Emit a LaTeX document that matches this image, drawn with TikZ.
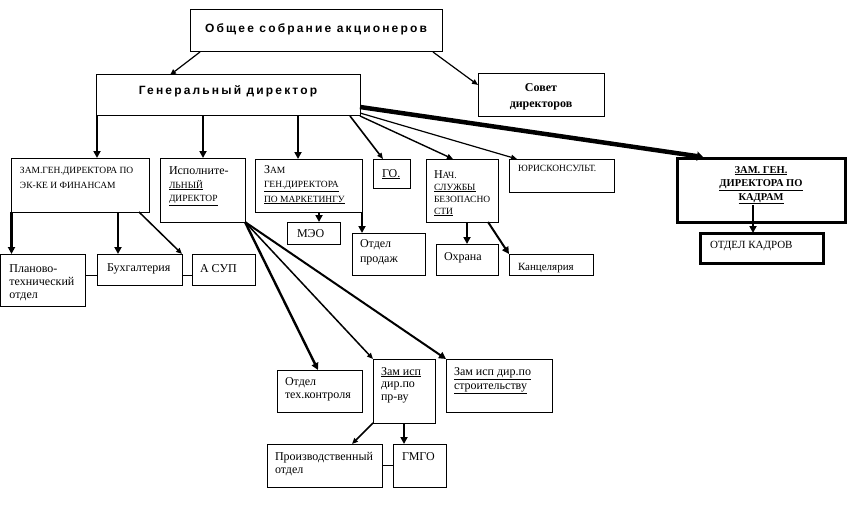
\documentclass[tikz,border=0pt]{standalone}
\usepackage{fontspec}
\setmainfont{Liberation Serif}
\newfontfamily\hdfont[LetterSpace=18]{Liberation Sans}
\usetikzlibrary{arrows.meta}
\newcommand\sm{\fontsize{9.5}{14}\selectfont}
\newcommand\hd{\hdfont\bfseries\fontsize{12}{14}\selectfont}
\tikzset{
  ob/.style={draw, line width=1pt, rectangle, inner sep=0pt, outer sep=0pt,
    font=\fontsize{12}{14}\selectfont},
  obthick/.style={line width=3pt},
  conn/.style={line width=#1, -{Triangle[length=7pt,width=7pt]}},
  conn/.default=2.2pt,
  thinconn/.style={line width=#1, -{Triangle[length=6pt,width=5pt]}},
  thinconn/.default=1.2pt,
  plain/.style={line width=0.8pt}
}
% name, x1, y1, x2, y2, padx, baseline-from-top, node options, text
\newcommand\obox[9]{%
  \node[ob,#8] (#1) at ({(#2+#4)/2},{-(#3+#5)/2})
  {\parbox[c][\dimexpr #5pt-#3pt\relax][t]{\dimexpr #4pt-#2pt\relax}{%
    \leftskip=#6pt\rightskip=0pt plus 1fil\parindent=0pt\lineskiplimit=-20pt
    \hyphenpenalty=10000\rule{0pt}{#7pt}#9\par}};}
\begin{document}
\begin{tikzpicture}[x=1pt,y=1pt]
\useasboundingbox (0,0) rectangle (859,-508);
% boxes
\obox{obsh}{190}{10}{442}{52}{0}{23}{}{\centering\hd Общее собрание акционеров}
\obox{gen}{96}{75}{360}{116}{0}{20}{}{\centering\hd Генеральный директор}
\obox{sovet}{478}{74}{604}{117}{0}{18}{font=\fontsize{12}{16}\selectfont}{\centering\bfseries Совет\\директоров}
\obox{zamek}{11}{158}{149}{212}{9}{15}{font=\fontsize{9.5}{15}\selectfont}{ЗАМ.ГЕН.ДИРЕКТОРА ПО\\ЭК-КЕ И ФИНАНСАМ}
\obox{isp}{160}{158}{245}{222}{9}{16}{}{Исполните-\\{\sm\underline{ЛЬНЫЙ}}\\{\sm\underline{ДИРЕКТОР}}}
\obox{mark}{255}{159}{362}{212}{9}{14}{font=\fontsize{12}{14.5}\selectfont}{З{\sm АМ}\\{\sm\underline{ГЕН.ДИРЕКТОРА}}\\{\sm\underline{ПО МАРКЕТИНГУ}}}
\obox{go}{373}{159}{410}{188}{9}{18}{}{\underline{ГО.}}
\obox{nach}{426}{159}{498}{222}{8}{19}{font=\fontsize{12}{12}\selectfont}{Н{\sm АЧ.}\\{\sm\underline{СЛУЖБЫ}}\\{\sm БЕЗОПАСНО}\\{\sm\underline{СТИ}}}
\obox{yur}{509}{159}{614}{192}{9}{13}{}{{\sm ЮРИСКОНСУЛЬТ.}}
\obox{kadry}{677}{158}{845}{222}{0}{15}{obthick,font=\fontsize{10.5}{13.5}\selectfont}{\centering\bfseries\underline{ЗАМ. ГЕН.}\\\underline{ДИРЕКТОРА ПО}\\\underline{КАДРАМ}}
\obox{plan}{0.5}{254}{85}{306}{9}{18}{font=\fontsize{12}{13}\selectfont}{Планово-\\технический\\отдел}
\obox{buh}{97}{254}{182}{285}{10}{17}{}{Бухгалтерия}
\obox{asup}{192}{254}{255}{285}{8}{18}{}{А СУП}
\obox{meo}{287}{222}{340}{244}{10}{15}{}{МЭО}
\obox{prod}{352}{233}{425}{275}{8}{14}{font=\fontsize{12}{15}\selectfont}{Отдел\\продаж}
\obox{ohr}{436}{244}{498}{275}{8}{16}{}{Охрана}
\obox{kanc}{509}{254}{593}{275}{9}{16}{font=\fontsize{11}{13}\selectfont}{Канцелярия}
\obox{tekh}{277}{370}{362}{412}{8}{15}{font=\fontsize{12}{13}\selectfont}{Отдел\\тех.контроля}
\obox{pzam}{373}{359}{435}{423}{8}{16}{font=\fontsize{12}{12.5}\selectfont}{\underline{Зам исп}\\дир.по\\пр-ву}
\obox{stroit}{446}{359}{552}{412}{8}{16}{}{\underline{Зам исп дир.по}\\\underline{строительству}}
\obox{proizv}{267}{444}{382}{487}{8}{16}{font=\fontsize{12}{13}\selectfont}{Производственный\\отдел}
\obox{gmgo}{393}{444}{446}{487}{9}{16}{}{ГМГО}
\obox{otdkadr}{700}{233}{823}{263}{10}{15}{obthick,font=\fontsize{11}{13}\selectfont}{ОТДЕЛ КАДРОВ}
% helper coordinates
\coordinate (g0) at ([xshift=1pt]gen.south west);
\coordinate (g1) at ([xshift=107pt]gen.south west);
\coordinate (g2) at ([xshift=202pt]gen.south west);
\coordinate (z0) at ([xshift=0.5pt]zamek.south west);
\coordinate (z1) at ([xshift=107pt]zamek.south west);
\coordinate (m0) at ([xshift=64pt]mark.south west);
\coordinate (n0) at ([xshift=41pt]nach.south west);
\coordinate (k0) at ([xshift=-8pt,yshift=17pt]kadry.south);
\coordinate (p0) at ([xshift=31pt]pzam.south west);
\coordinate (pl) at ([yshift=-21pt]plan.north east);
\coordinate (bu) at ([yshift=-21pt]buh.north east);
\coordinate (pr) at ([yshift=-21pt]proizv.north east);
% connectors
\draw[thinconn] ([xshift=10pt]obsh.south west) -- ([xshift=74pt]gen.north west);
\draw[thinconn] ([xshift=-9pt]obsh.south east) -- ([yshift=-11pt]sovet.north west);
\draw[conn] (g0) -- (g0 |- zamek.north);
\draw[conn] (g1) -- (g1 |- isp.north);
\draw[conn] (g2) -- (g2 |- mark.north);
\draw[thinconn=1.6pt] ([xshift=-10pt]gen.south east) -- ([xshift=10pt]go.north west);
\draw[thinconn=1.4pt] (gen.south east) -- ([xshift=27pt]nach.north west);
\draw[thinconn=1.2pt] ([yshift=3pt]gen.south east) -- ([xshift=8pt]yur.north west);
\draw[line width=4.5pt, -{Triangle[length=6pt,width=9pt]}] ([yshift=9pt]gen.south east) -- ([xshift=26pt,yshift=1pt]kadry.north west);
\draw[conn] (z0) -- (z0 |- plan.north);
\draw[conn] (z1) -- (z1 |- buh.north);
\draw[thinconn=1.5pt] ([xshift=-10pt]zamek.south east) -- (buh.north east);
\draw[plain] (pl) -- (pl -| buh.west);
\draw[plain] (bu) -- (bu -| asup.west);
\draw[conn=2.4pt] (isp.south east) -- ([xshift=41pt]tekh.north west);
\draw[thinconn=1.5pt] (isp.south east) -- (pzam.north west);
\draw[conn=2pt] (isp.south east) -- (stroit.north west);
\draw[conn=2pt] (m0) -- (m0 |- meo.north);
\draw[conn=2pt] (mark.south east) -- (mark.south east |- prod.north);
\draw[conn] (n0) -- (n0 |- ohr.north);
\draw[conn=2pt] ([xshift=-10pt]nach.south east) -- (kanc.north west);
\draw[conn=2pt] (k0) -- (k0 |- otdkadr.north);
\draw[thinconn=1.5pt] (pzam.south west) -- ([xshift=85pt]proizv.north west);
\draw[conn] (p0) -- (p0 |- gmgo.north);
\draw[plain] (pr) -- (pr -| gmgo.west);
\end{tikzpicture}
\end{document}
